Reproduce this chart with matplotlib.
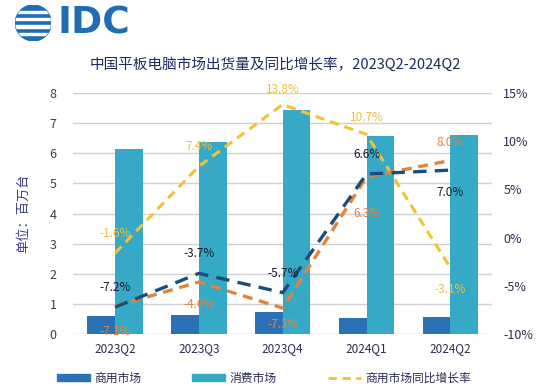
import matplotlib
matplotlib.use('Agg')
import matplotlib.pyplot as plt
import numpy as np
from matplotlib.patches import Circle, Rectangle
from matplotlib.lines import Line2D

plt.rcParams['font.family'] = ['Noto Sans CJK SC', 'DejaVu Sans']

# -----------------------------------------------------------------------
# Data
# -----------------------------------------------------------------------
QUARTERS   = ["2023Q2", "2023Q3", "2023Q4", "2024Q1", "2024Q2"]
BUSINESS   = [0.60, 0.63, 0.73, 0.52, 0.56]      # 商用市场, 百万台
CONSUMER   = [6.13, 6.37, 7.42, 6.56, 6.61]      # 消费市场, 百万台
BIZ_YOY    = [-1.6, 7.4, 13.8, 10.7, -3.1]       # 商用市场同比增长率 (yellow)
TOTAL_YOY  = [-7.2, -3.7, -5.7, 6.6, 7.0]        # navy dashed
CONS_YOY   = [-7.1, -4.6, -7.3, 6.3, 8.0]        # orange dashed

LEFT_TICKS  = [0, 1, 2, 3, 4, 5, 6, 7, 8]
RIGHT_TICKS = [-10, -5, 0, 5, 10, 15]

C_BIZ    = "#2a72b5"
C_CONS   = "#36a9c6"
C_YELLOW = "#f0c238"
C_NAVY   = "#1b4d78"
C_ORANGE = "#e0853c"
C_TEXT   = "#2b2b55"

# -----------------------------------------------------------------------
# Figure
# -----------------------------------------------------------------------
fig = plt.figure(figsize=(5.5, 3.89), dpi=100)
ax = fig.add_axes([0.133, 0.141, 0.762, 0.620])
ax2 = ax.twinx()

x = np.arange(len(QUARTERS))
w = 0.33
ax.bar(x - w / 2, BUSINESS, w, color=C_BIZ, zorder=2)
ax.bar(x + w / 2, CONSUMER, w, color=C_CONS, zorder=2)

ax.set_xlim(-0.5, len(QUARTERS) - 0.5)
ax.set_ylim(0, 8)
ax.set_yticks(LEFT_TICKS)
ax.set_xticks(x)
ax.set_xticklabels(QUARTERS, fontsize=8.5, color=C_TEXT)
ax.tick_params(axis='y', labelsize=9, colors="#404040", length=0, pad=12)
ax.tick_params(axis='x', length=0, pad=6)
ax.grid(True, axis='y', color="#cfcfd6", linewidth=1.0, zorder=0)
ax.set_axisbelow(True)
for s in ax.spines.values():
    s.set_visible(False)
ax.set_ylabel("单位：百万台", fontsize=9.5, color="#3c3c8c", labelpad=14)

ax2.set_ylim(-10, 15)
ax2.set_yticks(RIGHT_TICKS)
ax2.set_yticklabels([f"{v}%" for v in RIGHT_TICKS])
ax2.tick_params(axis='y', labelsize=9, colors=C_TEXT, length=0, pad=8)
for s in ax2.spines.values():
    s.set_visible(False)

ax2.plot(x, BIZ_YOY, color=C_YELLOW, linewidth=2.2, dashes=(3, 2), zorder=3)
ax2.plot(x, CONS_YOY, color=C_ORANGE, linewidth=2.4, dashes=(3, 2), zorder=3)
ax2.plot(x, TOTAL_YOY, color=C_NAVY, linewidth=2.4, dashes=(4, 2.5), zorder=4)

# data labels: offsets in points (positive = above)
yellow_off = [14, 14, 11, 12, -16]
navy_off   = [14, 14, 14, 14, -16]
orange_off = [-18, -16, -12, -26, 13]
for i in range(len(x)):
    ax2.annotate(f"{BIZ_YOY[i]:.1f}%", (x[i], BIZ_YOY[i]), xytext=(0, yellow_off[i]),
                 textcoords='offset points', ha='center', va='center',
                 fontsize=8.5, color=C_YELLOW, zorder=5)
    ax2.annotate(f"{TOTAL_YOY[i]:.1f}%", (x[i], TOTAL_YOY[i]), xytext=(0, navy_off[i]),
                 textcoords='offset points', ha='center', va='center',
                 fontsize=8.5, color="#1a1a2e", zorder=5)
    ax2.annotate(f"{CONS_YOY[i]:.1f}%", (x[i], CONS_YOY[i]), xytext=(0, orange_off[i]),
                 textcoords='offset points', ha='center', va='center',
                 fontsize=8.5, color=C_ORANGE, zorder=5)

# title
fig.text(0.5, 0.833, "中国平板电脑市场出货量及同比增长率，2023Q2-2024Q2",
         ha='center', va='center', fontsize=10.5, color="#1d2a5c")

# IDC logo
lax = fig.add_axes([0.028, 0.895, 0.065, 0.092])
lax.set_xlim(-1, 1)
lax.set_ylim(-1, 1)
lax.set_aspect('equal')
lax.axis('off')
globe = Circle((0, 0), 1, color="#1f6db3")
lax.add_patch(globe)
for yy in [-0.62, -0.2, 0.22, 0.62]:
    lax.add_patch(Rectangle((-1.1, yy - 0.07), 2.2, 0.14, color="white", clip_path=globe))
fig.text(0.105, 0.94, "IDC", ha='left', va='center', fontsize=27,
         fontweight='bold', color="#1f6db3", family='DejaVu Sans')

# legend
handles = [Rectangle((0, 0), 1, 1, color=C_BIZ),
           Rectangle((0, 0), 1, 1, color=C_CONS),
           Line2D([0], [0], color=C_YELLOW, linewidth=2, dashes=(3, 2))]
labels = ["商用市场", "消费市场", "商用市场同比增长率"]
leg = fig.legend(handles, labels, loc='center', bbox_to_anchor=(0.48, 0.028),
                 ncol=3, frameon=False, fontsize=8.5, handlelength=2.8,
                 handleheight=0.6, columnspacing=4.3, handletextpad=0.4)
for t in leg.get_texts():
    t.set_color(C_TEXT)

plt.savefig("out.png", dpi=100)
plt.close()
